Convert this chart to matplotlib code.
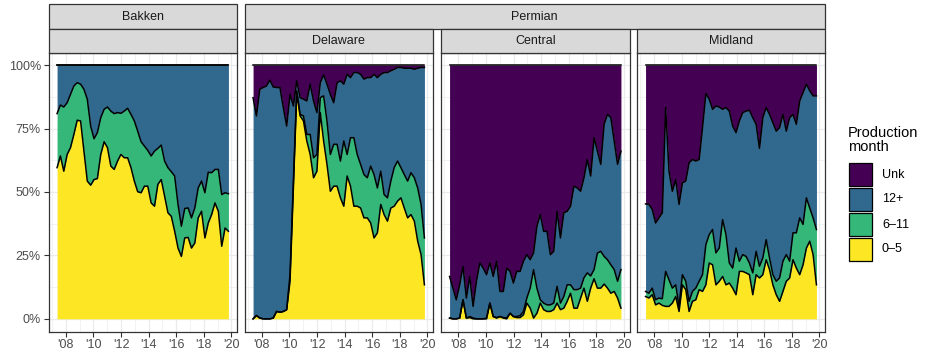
import numpy as np
import matplotlib.pyplot as plt
from matplotlib.patches import Rectangle

plt.rcParams['font.family'] = ['Liberation Sans', 'DejaVu Sans']

### monthly-ish sample dates (decimal years), same for every basin
dates = np.linspace(2007.37, 2019.78, 52)

### cumulative shares (%): top of 0-5, top of 6-11, top of 12+
### (everything above the 12+ line up to 100% is "Unk")
bakken_05 = [59.6, 64.2, 58.2, 64.8, 67.5, 72.7, 78.3, 78.0, 66.1, 54.3,
             52.7, 54.9, 55.3, 64.8, 69.8, 67.5, 60.2, 58.9, 62.2, 64.8,
             63.5, 63.5, 59.6, 54.3, 50.1, 49.7, 52.3, 52.3, 45.7, 44.4,
             53.0, 54.9, 48.4, 41.8, 40.4, 34.5, 27.9, 24.6, 31.9, 32.1,
             27.9, 29.9, 39.8, 42.4, 31.9, 37.8, 41.1, 45.7, 42.4, 28.6,
             35.8, 34.5]
bakken_611 = [80.9, 84.3, 83.5, 85.2, 88.5, 91.8, 93.1, 92.5, 90.5, 86.6,
              76.0, 71.0, 73.4, 79.3, 82.6, 83.5, 81.9, 80.9, 81.3, 81.0,
              81.9, 83.0, 80.6, 78.0, 74.0, 69.8, 68.1, 66.4, 64.2, 66.1,
              67.2, 68.5, 62.2, 59.6, 58.0, 56.3, 45.1, 36.5, 43.5, 43.7,
              39.8, 43.7, 51.6, 54.3, 49.7, 57.8, 57.6, 58.9, 58.9, 49.0,
              49.7, 49.3]
bakken_12 = [100] * 52

delaware_05 = [0, 1.3, 0.3, 0, 0, 0, 0.3, 2.9, 2.6, 2.9,
               3.6, 14.8, 51.6, 89.2, 80.0, 78.0, 70.1, 64.8, 55.6, 58.2,
               81.3, 70.1, 60.9, 50.3, 52.3, 52.3, 47.7, 44.4, 56.3, 52.3,
               44.4, 44.4, 43.7, 39.8, 39.8, 37.8, 31.9, 33.9, 45.1, 41.1,
               38.5, 43.7, 44.4, 46.4, 47.7, 43.7, 39.8, 41.1, 38.5, 30.6,
               25.3, 13.4]
delaware_611 = [0, 1.3, 0.3, 0, 0, 0, 0.3, 2.9, 2.6, 2.9,
                3.6, 17.4, 54.3, 89.9, 80.6, 80.0, 72.7, 72.7, 63.5, 64.8,
                87.2, 87.9, 78.0, 64.8, 68.8, 68.8, 62.2, 70.1, 64.8, 71.4,
                71.4, 64.8, 60.9, 56.9, 55.6, 60.2, 56.9, 51.6, 58.2, 49.0,
                47.7, 54.3, 59.6, 62.2, 59.6, 56.9, 54.3, 57.6, 55.6, 51.6,
                45.1, 31.9]
delaware_12 = [87.2, 80.0, 90.5, 91.2, 91.8, 94.1, 91.4, 91.2, 91.2, 83.3,
               76.0, 88.5, 83.9, 93.8, 87.2, 86.6, 85.9, 92.5, 85.9, 81.3,
               93.1, 96.2, 92.5, 88.5, 85.2, 93.1, 93.8, 92.5, 96.4, 95.1,
               97.1, 97.1, 96.4, 94.5, 95.1, 95.1, 96.4, 95.1, 96.4, 97.1,
               97.1, 97.8, 98.4, 99.1, 99.1, 98.8, 98.8, 98.8, 98.4, 98.8,
               99.1, 99.1]

central_05 = [0.3, 0, 0, 0.3, 7.5, 0.3, 0.5, 0, 0, 0,
              0, 0, 6.2, 0.9, 0.3, 0.9, 0.3, 0, 2.2, 0.9,
              0.5, 0.5, 1.6, 6.2, 4.2, 0.3, 2.2, 6.2, 3.6, 2.9,
              2.9, 3.6, 6.2, 3.6, 4.2, 6.9, 10.1, 4.2, 4.2, 8.2,
              12.1, 6.9, 12.1, 15.8, 12.1, 12.1, 13.7, 12.1, 10.1, 10.8,
              8.2, 4.2]
central_611 = [0.3, 0, 0, 0.3, 7.5, 0.3, 0.9, 0.3, 0, 0,
               0, 0.3, 6.2, 0.9, 0.5, 0.9, 0.5, 0.3, 2.2, 0.9,
               0.9, 1.3, 2.9, 8.2, 12.1, 19.4, 12.1, 7.5, 6.2, 5.5,
               5.5, 6.2, 12.8, 6.2, 8.8, 13.4, 13.4, 11.5, 11.5, 12.1,
               16.2, 18.1, 16.9, 19.4, 25.9, 26.6, 24.6, 23.3, 21.3, 19.4,
               14.8, 19.4]
central_12 = [16.7, 12.1, 7.5, 13.4, 20.7, 8.2, 16.7, 4.9, 14.8, 22.0,
              20.0, 17.4, 22.0, 16.7, 22.7, 10.8, 10.8, 20.0, 18.7, 14.1,
              18.7, 18.7, 22.7, 25.3, 23.3, 26.0, 36.5, 41.1, 34.5, 34.5,
              25.3, 26.6, 42.4, 31.9, 41.8, 42.4, 44.4, 52.3, 51.6, 50.3,
              55.6, 62.8, 56.3, 71.4, 66.1, 60.9, 76.7, 80.6, 79.3, 70.1,
              60.9, 66.1]

midland_05 = [8.8, 8.2, 9.5, 5.5, 6.2, 5.3, 4.9, 4.9, 6.2, 8.8,
              2.9, 13.4, 11.5, 2.9, 6.9, 7.5, 11.5, 10.8, 13.4, 22.0,
              21.3, 13.4, 14.8, 16.7, 13.4, 14.1, 12.1, 9.5, 18.7, 18.7,
              18.1, 17.4, 9.5, 17.4, 16.1, 17.4, 23.3, 19.4, 13.4, 9.5,
              6.9, 10.8, 14.8, 16.1, 23.3, 20.0, 17.4, 21.3, 27.9, 30.6,
              25.3, 13.4]
midland_611 = [10.8, 10.1, 12.1, 7.5, 8.2, 7.9, 18.7, 15.4, 12.1, 13.4,
               4.9, 17.4, 14.8, 6.9, 10.8, 12.1, 14.8, 17.4, 29.2, 33.2,
               35.2, 26.0, 27.9, 39.1, 33.2, 22.0, 20.0, 27.9, 22.7, 25.3,
               24.6, 22.0, 18.1, 26.6, 20.7, 24.0, 31.2, 24.0, 17.4, 14.8,
               16.1, 22.7, 25.3, 22.7, 33.9, 33.9, 39.8, 37.2, 47.7, 43.7,
               39.8, 35.2]
midland_12 = [45.3, 45.1, 43.1, 37.8, 39.8, 41.8, 83.3, 58.2, 50.3, 54.9,
              45.1, 53.6, 54.3, 61.5, 62.8, 62.2, 62.8, 75.4, 88.8, 86.6,
              82.6, 83.9, 83.5, 82.6, 83.3, 81.9, 76.0, 73.4, 78.0, 81.3,
              81.9, 82.2, 79.3, 76.7, 67.2, 79.3, 83.3, 80.6, 77.3, 74.0,
              75.4, 80.6, 74.0, 79.3, 80.6, 76.7, 85.9, 89.2, 92.5, 89.9,
              87.9, 87.9]

basins = ['Bakken', 'Delaware', 'Central', 'Midland']
series = [(bakken_05, bakken_611, bakken_12),
          (delaware_05, delaware_611, delaware_12),
          (central_05, central_611, central_12),
          (midland_05, midland_611, midland_12)]

classes = ['Unk', '12+', '6\u201311', '0\u20135']
colors = ['#440154', '#31688E', '#35B779', '#FDE725']

W, H = 925, 352
fig = plt.figure(figsize=(W / 100, H / 100), dpi=100)

def rect(x0, x1, y0, y1):
    # pixel box (top-left origin) -> figure fraction
    return [x0 / W, 1 - y1 / H, (x1 - x0) / W, (y1 - y0) / H]

panel_x = [(48.5, 237), (244.5, 433), (441, 629.5), (637, 825)]
p_top, p_bot = 52.5, 331.5
edge = '#333333'

span = dates[-1] - dates[0]
xlim = (dates[0] - 0.05 * span, dates[-1] + 0.05 * span)

for i, (x0, x1) in enumerate(panel_x):
    ax = fig.add_axes(rect(x0, x1, p_top, p_bot))
    y05, y611, y12 = [np.array(s) / 100 for s in series[i]]
    ax.fill_between(dates, 0, y05, color=colors[3], lw=0)
    ax.fill_between(dates, y05, y611, color=colors[2], lw=0)
    ax.fill_between(dates, y611, y12, color=colors[1], lw=0)
    ax.fill_between(dates, y12, 1, color=colors[0], lw=0)
    for top in (y05, y611, y12, np.ones(len(dates))):
        ax.plot(dates, top, color='black', lw=1.1, solid_joinstyle='round')

    ax.set_xlim(xlim)
    ax.set_ylim(-0.05, 1.05)
    ax.set_xticks(range(2008, 2021, 2))
    ax.set_xticks(range(2007, 2021, 2), minor=True)
    ax.set_xticklabels(["'%02d" % (y % 100) for y in range(2008, 2021, 2)])
    ax.set_yticks([0, 0.25, 0.5, 0.75, 1])
    ax.set_yticks([0.125, 0.375, 0.625, 0.875], minor=True)
    ax.set_yticklabels(['0%', '25%', '50%', '75%', '100%'])
    ax.grid(which='major', color='#EBEBEB', lw=0.9)
    ax.grid(which='minor', color='#EBEBEB', lw=0.45)
    ax.set_axisbelow(True)
    ax.tick_params(which='major', length=3.5, width=0.8, color=edge,
                   labelsize=9, labelcolor='#4D4D4D', pad=2)
    ax.tick_params(which='minor', length=0)
    if i > 0:
        ax.tick_params(axis='y', which='both', left=False, labelleft=False)
    for s in ax.spines.values():
        s.set_color(edge)
        s.set_linewidth(0.9)

def strip(x0, x1, y0, y1, label):
    fig.patches.append(Rectangle((x0 / W, 1 - y1 / H), (x1 - x0) / W, (y1 - y0) / H,
                                 transform=fig.transFigure, facecolor='#D9D9D9',
                                 edgecolor=edge, lw=0.9))
    if label:
        fig.text((x0 + x1) / 2 / W, 1 - (y0 + y1) / 2 / H, label, ha='center',
                 va='center', fontsize=9, color='#1A1A1A')

strip(panel_x[0][0], panel_x[0][1], 4.5, 28.8, 'Bakken')
strip(panel_x[0][0], panel_x[0][1], 28.8, p_top, '')
strip(panel_x[1][0], panel_x[3][1], 4.5, 28.8, 'Permian')
for i in range(1, 4):
    strip(panel_x[i][0], panel_x[i][1], 28.8, p_top, basins[i])

### legend
fig.text(848 / W, 1 - 140 / H, 'Production\nmonth', ha='left', va='center',
         fontsize=10.5, color='black', linespacing=1.0)
for k, (lab, c) in enumerate(zip(classes, colors)):
    ky = 163 + k * 25
    fig.patches.append(Rectangle((849 / W, 1 - (ky + 23) / H), 23 / W, 23 / H,
                                 transform=fig.transFigure, facecolor=c,
                                 edgecolor='black', lw=0.9))
    fig.text(882 / W, 1 - (ky + 11.5) / H, lab, ha='left', va='center',
             fontsize=9, color='black')

fig.savefig('out.png', dpi=100)
